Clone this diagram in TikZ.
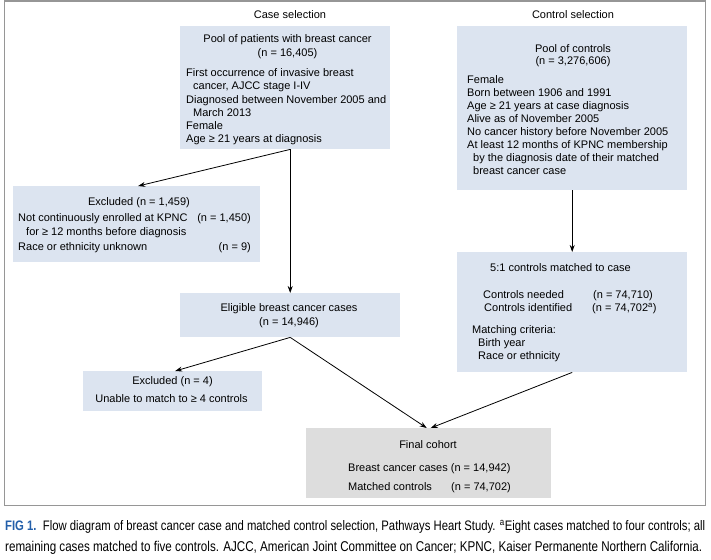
\documentclass[tikz,border=0pt]{standalone}
\usepackage{fontspec}
\setmainfont{Liberation Sans}
\newfontfamily\capfont[FakeStretch=0.82]{Liberation Sans}
\usetikzlibrary{arrows.meta,calc}
\definecolor{boxblue}{RGB}{220,228,240}
\definecolor{boxgray}{RGB}{221,221,221}
\definecolor{framegray}{RGB}{150,150,150}
\definecolor{figblue}{RGB}{35,95,170}
\begin{document}
\begin{tikzpicture}[x=1pt,y=-1pt,
  bluebox/.style={fill=boxblue, inner sep=0, anchor=north west},
  graybox/.style={fill=boxgray, inner sep=0, anchor=north west},
  t/.style={font=\fontsize{11}{13}\selectfont, inner sep=0, text height=7.5pt, text depth=0pt},
  tl/.style={t, anchor=west},
  tc/.style={t, anchor=center},
  tr/.style={t, anchor=east},
  arr/.style={line width=0.8pt, -{Stealth[length=7pt,width=5pt]}}]
\useasboundingbox (0,0) rectangle (711,559);
% frame
\draw[framegray, line width=1.5pt] (4.5,0.8) rectangle (705.5,505.5);

% column titles
\node[tc] (casetitle) at (290,15) {Case selection};
\node[tc] (ctrltitle) at (573,15) {Control selection};

% boxes
\node[bluebox, minimum width=210, minimum height=123] (pool) at (180,26) {};
\node[bluebox, minimum width=230, minimum height=164] (ctrl) at (457,26) {};
\node[bluebox, minimum width=247, minimum height=76] (excl1) at (13,186) {};
\node[bluebox, minimum width=220, minimum height=44] (elig) at (180,293) {};
\node[bluebox, minimum width=179, minimum height=40] (excl4) at (83,371) {};
\node[bluebox, minimum width=230, minimum height=120] (match) at (457,252) {};
\node[graybox, minimum width=245, minimum height=70] (final) at (306,428) {};

% pool text
\node[tc] (p1) at (287.5,39) {Pool of patients with breast cancer};
\node[tc] (p2) at (287.5,53) {(n = 16,405)};
\node[tl] (p3) at (186,73) {First occurrence of invasive breast};
\node[tl] (p4) at (193,86) {cancer, AJCC stage I-IV};
\node[tl] (p5) at (186,100) {Diagnosed between November 2005 and};
\node[tl] (p6) at (193,113) {March 2013};
\node[tl] (p7) at (186,126) {Female};
\node[tl] (p8) at (186,139) {Age ≥ 21 years at diagnosis};

% controls text
\node[tc] (c1) at (573,49) {Pool of controls};
\node[tc] (c2) at (573,61) {(n = 3,276,606)};
\node[tl] (c3) at (467,80) {Female};
\node[tl] (c4) at (467,93) {Born between 1906 and 1991};
\node[tl] (c5) at (467,106) {Age ≥ 21 years at case diagnosis};
\node[tl] (c6) at (467,119) {Alive as of November 2005};
\node[tl] (c7) at (467,132) {No cancer history before November 2005};
\node[tl] (c8) at (467,145) {At least 12 months of KPNC membership};
\node[tl] (c9) at (473,158) {by the diagnosis date of their matched};
\node[tl] (c10) at (473,171) {breast cancer case};

% excluded 1
\node[tc] (e1) at (139,202) {Excluded (n = 1,459)};
\node[tl] (e2) at (18,218) {Not continuously enrolled at KPNC};
\node[tr] (e3) at (251,218) {(n = 1,450)};
\node[tl] (e4) at (26,232) {for ≥ 12 months before diagnosis};
\node[tl] (e5) at (18,247) {Race or ethnicity unknown};
\node[tr] (e6) at (251,247) {(n = 9)};

% eligible
\node[tc] (g1) at (289,308) {Eligible breast cancer cases};
\node[tc] (g2) at (289,322) {(n = 14,946)};

% excluded 4
\node[tc] (x1) at (172.5,381) {Excluded (n = 4)};
\node[tc] (x2) at (171.5,399) {Unable to match to ≥ 4 controls};

% matched
\node[tl] (m1) at (490,268) {5:1 controls matched to case};
\node[tl] (m2) at (483,295) {Controls needed};
\node[tr] (m3) at (653,295) {(n = 74,710)};
\node[tl] (m4) at (484,308) {Controls identified};
\node[tl] (m5) at (592,308) {(n = 74,702\textsuperscript{a})};
\node[tl] (m6) at (472,330) {Matching criteria:};
\node[tl] (m7) at (478,343) {Birth year};
\node[tl] (m8) at (478,356) {Race or ethnicity};

% final
\node[tc] (f1) at (428,445) {Final cohort};
\node[tl] (f2) at (348,468) {Breast cancer cases (n = 14,942)};
\node[tl] (f3) at (348,487) {Matched controls};
\node[tl] (f4) at (451,487) {(n = 74,702)};

% connectors
\coordinate (poolout) at (pool.south -| elig.north);
\draw[arr] (poolout) -- (elig.north);
\draw[arr] (poolout) -- ($(excl1.north)+(1.5,0)$);
\draw[arr] (ctrl.south) -- (match.north);
\draw[arr] (elig.south) -- ($(excl4.north)+(2.5,0)$);
\draw[arr] (elig.south) -- ($(final.north)+(-2,0)$);
\draw[arr] (match.south) -- ($(final.north)+(2,0)$);

% caption
\node[anchor=west, inner sep=0] (cap1) at (5,527) {\resizebox{700pt}{!}{\capfont\fontsize{11}{13}\selectfont{\color{figblue}\bfseries FIG 1.}\ \ Flow diagram of breast cancer case and matched control selection, Pathways Heart Study. \textsuperscript{a}Eight cases matched to four controls; all}};
\node[anchor=west, inner sep=0] (cap2) at (5,548) {\resizebox{697pt}{!}{\capfont\fontsize{11}{13}\selectfont remaining cases matched to five controls. AJCC, American Joint Committee on Cancer; KPNC, Kaiser Permanente Northern California.}};
\end{tikzpicture}
\end{document}
